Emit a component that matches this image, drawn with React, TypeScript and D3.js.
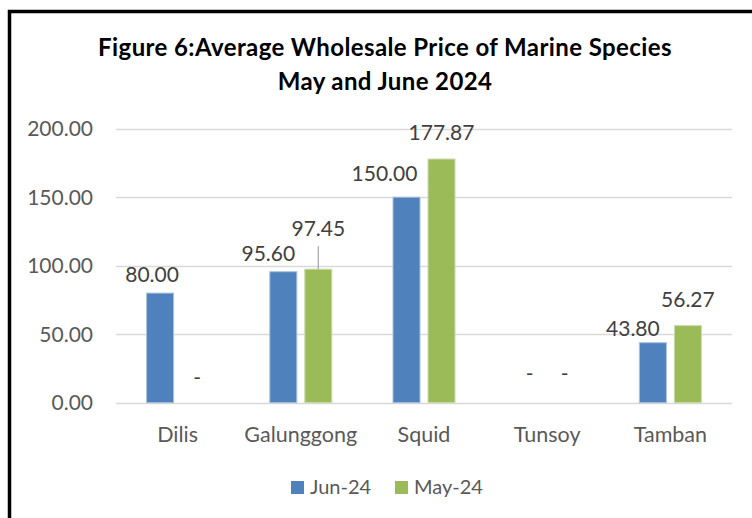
import { useEffect, useRef } from 'react';
import * as d3 from 'd3';

// chart data
const categories = ['Dilis', 'Galunggong', 'Squid', 'Tunsoy', 'Tamban'];
const seriesNames = ['Jun-24', 'May-24'];
const jun24: (number | null)[] = [80.0, 95.6, 150.0, null, 43.8];
const may24: (number | null)[] = [null, 97.45, 177.87, null, 56.27];
const yTicks = [0, 50, 100, 150, 200];

// manual nudges of the data labels, as in the original sheet [dx, dy]
const junLabelNudge: [number, number][] = [[-8, 0], [-15, 0], [-22, -5], [0, -4], [-20, 4]];
const mayLabelNudge: [number, number][] = [[2, 0], [0, -22], [0, -8], [0, -4], [0, -8]];

const colors = ['#4f81bd', '#9bbb59'];
const font = 'Lato, "Open Sans", sans-serif';

export default function App() {
  const svgRef = useRef<SVGSVGElement | null>(null);

  useEffect(() => {
    if (!svgRef.current) return;
    document.body.style.margin = '0';

    const W = 752;
    const H = 518;
    const svg = d3.select(svgRef.current);
    svg.selectAll('*').remove();
    svg.attr('width', W).attr('height', H);

    svg.append('rect').attr('width', W).attr('height', H).attr('fill', '#fff');

    // frame (only left and top edges are visible)
    svg.append('path')
      .attr('d', `M9.5,${H + 5} V11.5 H${W + 5}`)
      .attr('fill', 'none')
      .attr('stroke', '#000')
      .attr('stroke-width', 3.5);

    // title
    const title = svg.append('text')
      .attr('text-anchor', 'middle')
      .attr('font-family', font)
      .attr('font-weight', 'bold')
      .attr('font-size', 24)
      .attr('letter-spacing', 0.4)
      .attr('fill', '#000');
    title.append('tspan').attr('x', 385).attr('y', 56).text('Figure 6:Average Wholesale Price of Marine Species');
    title.append('tspan').attr('x', 385).attr('y', 90).text('May and June 2024');

    // scales
    const x0 = d3.scaleBand<string>().domain(categories).range([116, 732]);
    const x1 = d3.scaleBand<string>()
      .domain(seriesNames)
      .range([0, x0.bandwidth()])
      .paddingInner(8 / 35)
      .paddingOuter(0.874);
    const y = d3.scaleLinear().domain([0, 200]).range([402.7, 128.7]);

    // gridlines
    svg.append('g')
      .selectAll('line')
      .data(yTicks)
      .enter()
      .append('line')
      .attr('x1', 116)
      .attr('x2', 732)
      .attr('y1', d => Math.round(y(d)) + 0.5)
      .attr('y2', d => Math.round(y(d)) + 0.5)
      .attr('stroke', '#d9d9d9')
      .attr('stroke-width', 1.5);

    // y tick labels
    svg.append('g')
      .selectAll('text')
      .data(yTicks)
      .enter()
      .append('text')
      .attr('x', 93)
      .attr('y', d => y(d) + 7.5)
      .attr('text-anchor', 'end')
      .attr('font-family', font)
      .attr('font-size', 21)
      .attr('fill', '#595959')
      .text(d => d.toFixed(2));

    // category labels
    svg.append('g')
      .selectAll('text')
      .data(categories)
      .enter()
      .append('text')
      .attr('x', d => (x0(d) as number) + x0.bandwidth() / 2)
      .attr('y', 442)
      .attr('text-anchor', 'middle')
      .attr('font-family', font)
      .attr('font-size', 21.5)
      .attr('fill', '#595959')
      .text(d => d);

    const series = [jun24, may24];
    const nudges = [junLabelNudge, mayLabelNudge];

    series.forEach((values, si) => {
      const name = seriesNames[si];
      const pts = values.map((v, i) => ({ cat: categories[i], v, i }));
      const cx = (d: { cat: string }) => (x0(d.cat) as number) + (x1(name) as number);

      // bars
      svg.append('g')
        .selectAll('rect')
        .data(pts.filter(d => d.v !== null))
        .enter()
        .append('rect')
        .attr('x', d => cx(d))
        .attr('y', d => y(d.v as number))
        .attr('width', x1.bandwidth())
        .attr('height', d => y(0) - y(d.v as number))
        .attr('fill', colors[si])
        .attr('stroke', si === 0 ? '#a9c0df' : '#cadcab')
        .attr('stroke-width', 1);

      // data labels
      svg.append('g')
        .selectAll('text')
        .data(pts)
        .enter()
        .append('text')
        .attr('x', d => cx(d) + x1.bandwidth() / 2 + nudges[si][d.i][0])
        .attr('y', d => (d.v === null ? y(0) - 18 : y(d.v) - 11) + nudges[si][d.i][1])
        .attr('text-anchor', 'middle')
        .attr('font-family', font)
        .attr('font-size', 21)
        .attr('fill', '#404040')
        .text(d => (d.v === null ? '-' : d.v.toFixed(2)));
    });

    // leader line for the displaced May-24 Galunggong label
    const gi = categories.indexOf('Galunggong');
    const gx = (x0('Galunggong') as number) + (x1('May-24') as number) + x1.bandwidth() / 2;
    svg.append('line')
      .attr('x1', gx)
      .attr('x2', gx)
      .attr('y1', y(may24[gi] as number) - 23)
      .attr('y2', y(may24[gi] as number))
      .attr('stroke', '#a6a6a6')
      .attr('stroke-width', 1.2);

    // legend
    const legendX = [291, 395];
    const legend = svg.append('g')
      .selectAll('g')
      .data(seriesNames)
      .enter()
      .append('g')
      .attr('transform', (d, i) => `translate(${legendX[i]},481)`);

    legend.append('rect')
      .attr('width', 13)
      .attr('height', 13)
      .attr('fill', (d, i) => colors[i]);

    legend.append('text')
      .attr('x', 19)
      .attr('y', 13)
      .attr('font-family', font)
      .attr('font-size', 20)
      .attr('fill', '#595959')
      .text(d => d);
  }, []);

  return <svg ref={svgRef} style={{ display: 'block' }} />;
}
